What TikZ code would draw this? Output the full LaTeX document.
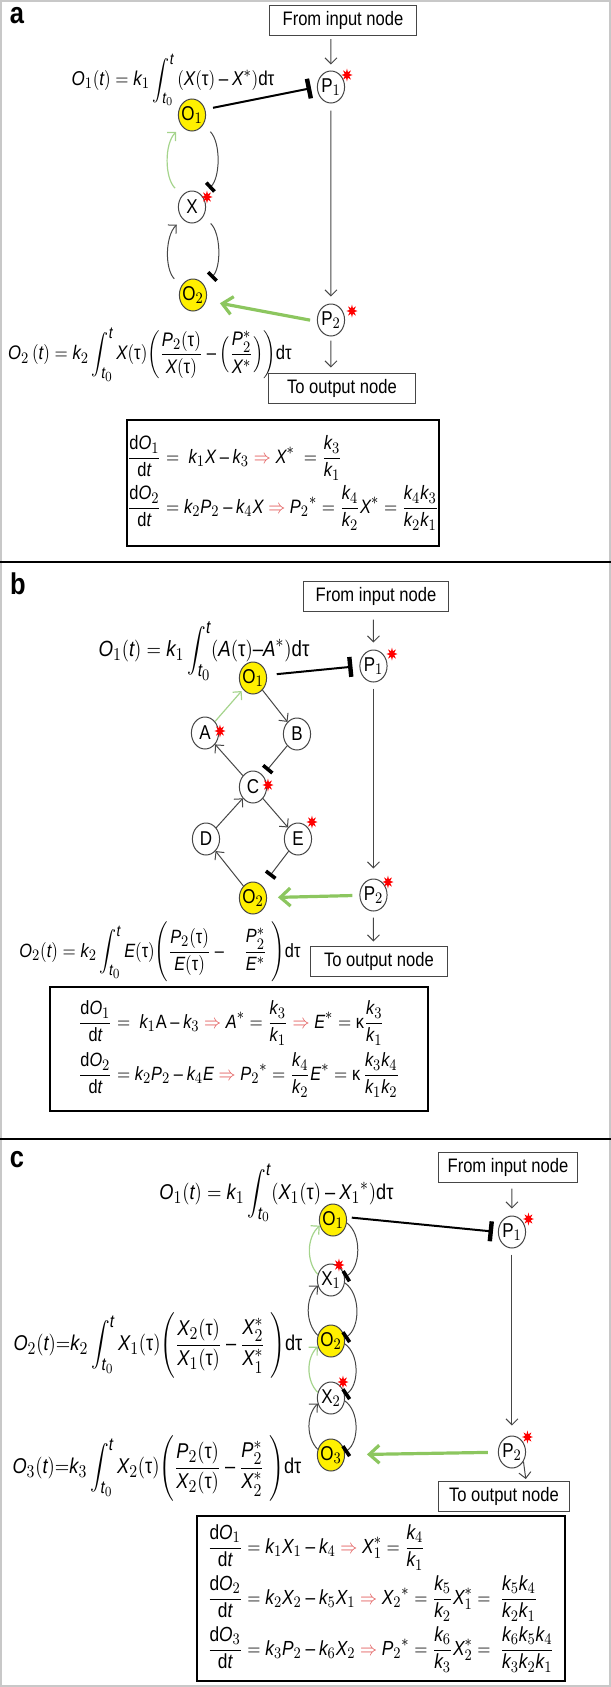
\documentclass[tikz,border=0pt]{standalone}
\usepackage{fontspec}
\setmainfont{Liberation Sans}
\usepackage{amsmath}
\usepackage[italic]{mathastext}
\usetikzlibrary{arrows.meta,shapes.geometric}

\definecolor{oyellow}{RGB}{255,240,0}
\definecolor{lgreen}{RGB}{140,198,95}
\definecolor{pgreen}{RGB}{165,212,140}
\definecolor{dgray}{RGB}{70,70,70}
\definecolor{ared}{RGB}{225,85,85}
\definecolor{framegray}{RGB}{200,200,200}

\newcommand{\utau}{\textnormal{τ}}
\newcommand{\rimp}{\mathrel{\textcolor{ared}{\Rightarrow}}}

\tikzset{
	mol/.style={circle, draw=dgray, line width=0.5pt, minimum size=16pt, inner sep=0pt, fill=white, font=\fontsize{10}{12}\selectfont},
	ctrl/.style={mol, fill=oyellow},
	spark/.style={star, star points=8, star point ratio=2.2, fill=red, draw=none, inner sep=0pt, minimum size=6.5pt},
	iobox/.style={draw=dgray, line width=0.5pt, minimum width=#1, minimum height=15pt, inner sep=0pt, font=\fontsize{9.75}{12}\selectfont},
	eqbox/.style={draw, line width=1pt, align=left, inner sep=0pt},
	act/.style={->, draw=dgray, line width=0.5pt},
	inh/.style={-{Bar[width=6pt,line width=1.8pt,color=black]}, draw=dgray, line width=0.5pt},
	feed/.style={->, draw=pgreen, line width=0.6pt},
	block/.style={-{Bar[width=10pt,line width=2.2pt]}, line width=1pt},
	flow/.style={-{Straight Barb[length=5pt,width=9pt]}, draw=lgreen, line width=1.6pt},
	panelline/.style={line width=1.2pt},
	lbl/.style={font=\fontsize{15}{18}\selectfont\bfseries},
	fml/.style={font=\fontsize{#1}{12}\selectfont},
	fml/.default=10,
}

\begin{document}
\begin{tikzpicture}[x=0.5882pt, y=-0.5pt, xscale=0.85, every node/.append style={transform shape}, >={Straight Barb[length=3pt,width=6pt]}]
	\useasboundingbox (0,0) rectangle (611,1687);
	\draw[framegray, line width=1pt] (1,1) rectangle (610,1686);
	\draw[panelline] (0,562) -- (611,562);
	\draw[panelline] (0,1139) -- (611,1139);

	\node[lbl] (la) at (17,16) {a};
	\node[iobox=87pt] (ina) at (343,20.5) {From input node};
	\node[mol] (p1a) at (331,87) {P$_1$};
	\node[ctrl] (o1a) at (192,115) {O$_1$};
	\node[mol] (xa) at ([shift={(0,92)}]o1a) {X};
	\node[ctrl] (o2a) at ([shift={(1,88)}]xa) {O$_2$};
	\node[mol] (p2a) at (331,320) {P$_2$};
	\node[iobox=87pt] (outa) at (342,388) {To output node};
	\node[spark] (sp1a) at (347,75) {};
	\node[spark] (sxa) at (207,197) {};
	\node[spark] (sp2a) at (352,311) {};

	\draw[act, shorten <=1.5pt, shorten >=3pt] (ina.south -| p1a) -- (p1a);
	\draw[block, shorten <=4pt, shorten >=3pt] (o1a.20) -- (p1a.west);
	\draw[feed, shorten <=5pt, shorten >=4pt] (xa.134) to[bend left=50] (o1a.223);
	\draw[inh, shorten <=5pt, shorten >=5pt] (o1a.-35) to[bend left=50] (xa.46);
	\draw[act, shorten <=5pt, shorten >=4pt] (o2a.147) to[bend left=50] (xa.228);
	\draw[inh, shorten <=5pt, shorten >=5pt] (xa.-35) to[bend left=50] (o2a.38);
	\draw[act, shorten <=3.5pt, shorten >=3.5pt] (p1a) -- (p2a);
	\draw[flow, shorten <=3.5pt, shorten >=7pt] (p2a.185) -- (o2a.-20);
	\draw[act, shorten <=2pt, shorten >=2.5pt] (p2a) -- (outa.north -| p2a);

	\node[fml] (fo1a) at (173,80) {$O_1(t) = k_1\displaystyle\int_{t_0}^{t}\,(X(\utau) - X^*)\mathrm{d}\utau$};
	\node[fml=9.8] (fo2a) at (150,355) {$O_2\,(t) = k_2\displaystyle\int_{t_0}^{t}X(\utau)\biggl(\frac{P_2(\utau)}{X(\utau)} - \Bigl(\frac{P_2^*}{X^*}\Bigr)\biggr)\mathrm{d}\utau$};
	\node[eqbox, minimum width=171.8pt, minimum height=63pt, font=\fontsize{9.7}{25}\selectfont] (eqa) at (283,483) {$\displaystyle\frac{\mathrm{d}O_1}{\mathrm{d}t} = \ k_1X - k_3 \rimp X^* \ = \frac{k_3}{k_1}$\\
		$\displaystyle\frac{\mathrm{d}O_2}{\mathrm{d}t} = k_2P_2 - k_4X \rimp P_2{}^* = \frac{k_4}{k_2}X^* = \frac{k_4k_3}{k_2k_1}$};

	\node[lbl] (lb) at (18,584) {b};
	\node[iobox=85pt] (inb) at (376,596) {From input node};
	\node[mol] (p1b) at (373.5,666) {P$_1$};
	\node[ctrl] (o1b) at (253,678) {O$_1$};
	\node[mol] (A) at ([shift={(-48,55)}]o1b) {A};
	\node[mol] (B) at ([shift={(44,56)}]o1b) {B};
	\node[mol] (C) at ([shift={(0,109)}]o1b) {C};
	\node[mol] (D) at ([shift={(-47,52)}]C) {D};
	\node[mol] (E) at ([shift={(45,52)}]C) {E};
	\node[ctrl] (o2b) at ([shift={(0,111)}]C) {O$_2$};
	\node[mol] (p2b) at (373.5,895) {P$_2$};
	\node[iobox=80.6pt] (outb) at (379,961) {To output node};
	\node[spark] (sp1b) at (392,654) {};
	\node[spark] (sab) at (220,731) {};
	\node[spark] (scb) at (268,785) {};
	\node[spark] (seb) at (312,822) {};
	\node[spark] (sp2b) at (388,882) {};

	\draw[act, shorten <=4pt, shorten >=3.5pt] (inb.south -| p1b) -- (p1b);
	\draw[block, shorten <=5pt, shorten >=3.5pt] (o1b.10) -- (p1b.west);
	\draw[feed, shorten >=1pt] (A) -- (o1b);
	\draw[act] (o1b) -- (B);
	\draw[inh, shorten >=3pt] (B) -- (C);
	\draw[act] (C) -- (A);
	\draw[act] (D) -- (C);
	\draw[act] (C) -- (E);
	\draw[inh, shorten >=6pt] (E) -- (o2b);
	\draw[act] (o2b) -- (D);
	\draw[act, shorten <=3pt, shorten >=5pt] (p1b) -- (p2b);
	\draw[flow, shorten <=3.5pt, shorten >=5.5pt] (p2b) -- (o2b);
	\draw[act, shorten <=3pt, shorten >=2pt] (p2b) -- (outb.north -| p2b);

	\node[fml=11] (fo1b) at (204,651) {$O_1(t) = k_1\displaystyle\int_{t_0}^{t}(A(\utau){-}A^*)\mathrm{d}\utau$};
	\node[fml=9.6] (fo2b) at (160,952) {$O_2(t) = k_2\displaystyle\int_{t_0}^{t}E(\utau)\Bigg(\frac{P_2(\utau)}{E(\utau)} - \quad\frac{P_2^*}{E^*}\ \Bigg)\mathrm{d}\utau$};
	\node[eqbox, minimum width=222pt, minimum height=62pt, font=\fontsize{9.6}{26}\selectfont] (eqb) at (239,1049) {$\displaystyle\frac{\mathrm{d}O_1}{\mathrm{d}t} = \ k_1\mathrm{A} - k_3 \rimp A^* = \frac{k_3}{k_1} \rimp E^* = \textnormal{κ}\frac{k_3}{k_1}$\\
		$\displaystyle\frac{\mathrm{d}O_2}{\mathrm{d}t} = k_2P_2 - k_4E \rimp P_2{}^* = \frac{k_4}{k_2}E^* = \textnormal{κ}\,\frac{k_3k_4}{k_1k_2}$};

	\node[lbl] (lc) at (17,1160) {c};
	\node[iobox=82pt] (inc) at (508,1167) {From input node};
	\node[mol] (p1c) at (512,1232) {P$_1$};
	\node[ctrl] (o1c) at (333,1220) {O$_1$};
	\node[mol] (x1c) at ([shift={(-2,60)}]o1c) {X$_1$};
	\node[ctrl] (o2c) at ([shift={(0,61)}]x1c) {O$_2$};
	\node[mol] (x2c) at ([shift={(0,57)}]o2c) {X$_2$};
	\node[ctrl] (o3c) at ([shift={(0,57)}]x2c) {O$_3$};
	\node[mol] (p2c) at (512,1452) {P$_2$};
	\node[iobox=76.5pt] (outc) at (504,1496.5) {To output node};
	\node[spark] (sp1c) at (528.5,1219) {};
	\node[spark] (sx1c) at (339,1265) {};
	\node[spark] (sx2c) at (343,1382) {};
	\node[spark] (sp2c) at (527.5,1437) {};

	\draw[act, shorten <=3pt, shorten >=3.5pt] (inc.south -| p1c) -- (p1c);
	\draw[block, shorten <=2.5pt, shorten >=2.5pt] (o1c.10) -- (p1c.west);
	\draw[feed] (x1c.160) to[bend left=50] (o1c.200);
	\draw[inh] (o1c.-10) to[bend left=60] (x1c.10);
	\draw[act] (o2c.160) to[bend left=50] (x1c.200);
	\draw[inh] (x1c.-10) to[bend left=60] (o2c.10);
	\draw[feed] (x2c.160) to[bend left=50] (o2c.200);
	\draw[inh] (o2c.-10) to[bend left=60] (x2c.10);
	\draw[act] (o3c.160) to[bend left=50] (x2c.200);
	\draw[inh] (x2c.-10) to[bend left=60] (o3c.10);
	\draw[act, shorten <=3pt, shorten >=5pt] (p1c) -- (p2c);
	\draw[flow, shorten <=5pt, shorten >=11pt] (p2c) -- (o3c);
	\draw[act, shorten >=1pt] (p2c.-35) -- ([xshift=13pt]outc.north);

	\node[fml=10.7] (fo1c) at (276.5,1193) {$O_1(t) = k_1\displaystyle\int_{t_0}^{t}(X_1(\utau) - X_1{}^*)\mathrm{d}\utau$};
	\node[fml=10.7] (fo2c) at (158,1345) {$O_2(t){=}k_2\displaystyle\int_{t_0}^{t}X_1(\utau)\Bigg(\frac{X_2(\utau)}{X_1(\utau)} - \frac{X_2^*}{X_1^*}\ \Bigg)\mathrm{d}\utau$};
	\node[fml=10.7] (fo3c) at (157,1468) {$O_3(t){=}k_3\displaystyle\int_{t_0}^{t}X_2(\utau)\Bigg(\frac{P_2(\utau)}{X_2(\utau)} - \frac{P_2^*}{X_2^*}\ \Bigg)\mathrm{d}\utau$};
	\node[eqbox, minimum width=216.5pt, minimum height=82.5pt, font=\fontsize{10.2}{25.5}\selectfont] (eqc) at (381,1598.5) {$\displaystyle\frac{\mathrm{d}O_1}{\mathrm{d}t} = k_1X_1 - k_4 \rimp X_1^* = \frac{k_4}{k_1}$\\
		$\displaystyle\frac{\mathrm{d}O_2}{\mathrm{d}t} = k_2X_2 - k_5X_1 \rimp X_2{}^* = \frac{k_5}{k_2}X_1^* = \ \frac{k_5k_4}{k_2k_1}$\\
		$\displaystyle\frac{\mathrm{d}O_3}{\mathrm{d}t} = k_3P_2 - k_6X_2 \rimp P_2{}^* = \frac{k_6}{k_3}X_2^* = \ \frac{k_6k_5k_4}{k_3k_2k_1}$};
\end{tikzpicture}
\end{document}
